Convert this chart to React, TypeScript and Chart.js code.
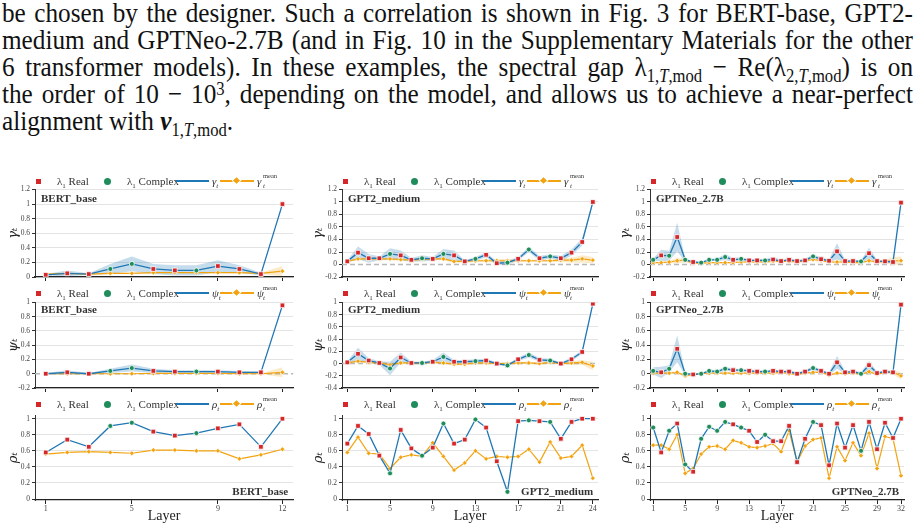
import React, { useEffect, useLayoutEffect, useRef, useState } from 'react';
import { Chart, registerables } from 'chart.js';

Chart.register(...registerables);

const SERIF = '"Liberation Serif", "DejaVu Serif", serif';
const MATH = '"DejaVu Serif", "Liberation Serif", serif';
const BLUE = '#1f77b4';
const BAND_BLUE = 'rgba(31,119,180,0.26)';
const ORANGE = '#f2a30f';
const BAND_ORANGE = 'rgba(242,163,15,0.22)';
const RED = '#d62728';
const GREEN = '#1e8d5b';

// ---------- categories ----------
const BERT_LAYERS = [1, 2, 3, 4, 5, 6, 7, 8, 9, 10, 11, 12];
const GPT2_LAYERS = [1, 2, 3, 4, 5, 6, 7, 8, 9, 10, 11, 12, 13, 14, 15, 16, 17, 18, 19, 20, 21, 22, 23, 24];
const GPTNEO_LAYERS = [1, 2, 3, 4, 5, 6, 7, 8, 9, 10, 11, 12, 13, 14, 15, 16, 17, 18, 19, 20, 21, 22, 23, 24, 25, 26, 27, 28, 29, 30, 31, 32];

const BERT_XTICKS = [1, 5, 9, 12];
const GPT2_XTICKS = [1, 5, 9, 13, 17, 21, 24];
const GPTNEO_XTICKS = [1, 5, 9, 13, 17, 21, 25, 29, 32];

// R = lambda_1 real, C = lambda_1 complex
const BERT_TYPES = 'RRRCCRRCRRRR';
const GPT2_TYPES = 'RRRRCRRCRCRRCRRCRCRCRRRR';
const GPTNEO_TYPES = 'CRCRCRCCCCRCRRCRRRRRCRRRRRCRRRRR';

// ---------- BERT_base ----------
const BERT_GAMMA = [0.03, 0.05, 0.04, 0.11, 0.18, 0.11, 0.09, 0.09, 0.15, 0.11, 0.04, 1.0];
const BERT_GAMMA_SD = [0.01, 0.04, 0.01, 0.07, 0.1, 0.07, 0.07, 0.07, 0.08, 0.05, 0.02, 0.0];
const BERT_GAMMA_MEAN = [0.04, 0.05, 0.04, 0.05, 0.05, 0.06, 0.06, 0.06, 0.06, 0.06, 0.05, 0.08];
const BERT_GAMMA_MEAN_SD = [0.01, 0.01, 0.01, 0.01, 0.01, 0.01, 0.01, 0.01, 0.01, 0.01, 0.01, 0.07];

const BERT_PSI = [0.0, 0.02, 0.0, 0.04, 0.08, 0.04, 0.03, 0.03, 0.03, 0.02, 0.02, 0.96];
const BERT_PSI_SD = [0.01, 0.03, 0.01, 0.03, 0.05, 0.03, 0.02, 0.02, 0.02, 0.02, 0.01, 0.0];
const BERT_PSI_MEAN = [0.0, 0.0, 0.0, 0.0, 0.0, 0.005, 0.005, 0.005, 0.005, 0.0, 0.0, 0.02];
const BERT_PSI_MEAN_SD = [0.005, 0.005, 0.005, 0.005, 0.005, 0.005, 0.005, 0.005, 0.005, 0.005, 0.005, 0.07];

const BERT_RHO = [0.58, 0.74, 0.65, 0.91, 0.95, 0.84, 0.79, 0.82, 0.88, 0.93, 0.65, 1.0];
const BERT_RHO_MEAN = [0.56, 0.58, 0.59, 0.58, 0.57, 0.61, 0.61, 0.6, 0.6, 0.5, 0.55, 0.62];

// ---------- GPT2_medium ----------
const GPT2_GAMMA = [0.05, 0.19, 0.1, 0.1, 0.17, 0.145, 0.075, 0.1, 0.09, 0.17, 0.145, 0.05, 0.09, 0.155, 0.02, 0.03, 0.09, 0.24, 0.1, 0.13, 0.1, 0.19, 0.36, 1.0];
const GPT2_GAMMA_SD = [0.02, 0.1, 0.07, 0.03, 0.09, 0.08, 0.03, 0.05, 0.03, 0.08, 0.08, 0.02, 0.03, 0.04, 0.03, 0.03, 0.03, 0.04, 0.04, 0.03, 0.04, 0.05, 0.06, 0.0];
const GPT2_GAMMA_MEAN = [0.05, 0.09, 0.09, 0.09, 0.09, 0.08, 0.07, 0.08, 0.09, 0.09, 0.05, 0.05, 0.06, 0.06, 0.06, 0.06, 0.06, 0.06, 0.06, 0.06, 0.07, 0.07, 0.09, 0.07];
const GPT2_GAMMA_MEAN_SD = [0.01, 0.02, 0.02, 0.02, 0.02, 0.02, 0.02, 0.02, 0.02, 0.02, 0.02, 0.02, 0.02, 0.02, 0.03, 0.03, 0.02, 0.02, 0.02, 0.02, 0.03, 0.04, 0.06, 0.05];

const GPT2_PSI = [0.02, 0.16, 0.05, 0.01, -0.08, 0.1, 0.01, 0.01, 0.03, 0.11, 0.03, 0.03, 0.04, 0.05, 0.0, -0.03, 0.07, 0.14, 0.06, 0.05, 0.0, 0.07, 0.19, 0.98];
const GPT2_PSI_SD = [0.02, 0.1, 0.04, 0.03, 0.11, 0.08, 0.02, 0.02, 0.03, 0.07, 0.03, 0.03, 0.03, 0.03, 0.02, 0.02, 0.03, 0.04, 0.03, 0.03, 0.02, 0.03, 0.03, 0.0];
const GPT2_PSI_MEAN = [0.01, 0.04, 0.02, 0.01, -0.02, 0.01, 0.01, 0.01, 0.02, 0.01, -0.01, -0.01, 0.01, 0.01, 0.0, 0.0, 0.01, 0.01, 0.0, 0.02, 0.0, 0.01, 0.02, -0.04];
const GPT2_PSI_MEAN_SD = [0.02, 0.02, 0.02, 0.02, 0.02, 0.02, 0.02, 0.02, 0.02, 0.02, 0.02, 0.02, 0.02, 0.02, 0.02, 0.02, 0.02, 0.02, 0.02, 0.02, 0.02, 0.03, 0.04, 0.07];

const GPT2_RHO = [0.69, 0.91, 0.81, 0.54, 0.32, 0.86, 0.63, 0.54, 0.64, 0.94, 0.69, 0.74, 0.99, 0.89, 0.47, 0.09, 0.97, 0.98, 0.97, 0.96, 0.75, 0.96, 1.0, 1.0];
const GPT2_RHO_MEAN = [0.58, 0.77, 0.57, 0.56, 0.38, 0.52, 0.55, 0.53, 0.7, 0.53, 0.36, 0.45, 0.6, 0.5, 0.53, 0.52, 0.53, 0.62, 0.46, 0.71, 0.51, 0.53, 0.67, 0.26];

// ---------- GPTNeo_2.7B ----------
const GPTNEO_GAMMA = [0.075, 0.145, 0.14, 0.44, 0.075, 0.04, 0.03, 0.075, 0.075, 0.12, 0.075, 0.09, 0.065, 0.065, 0.065, 0.08, 0.055, 0.075, 0.055, 0.065, 0.13, 0.085, 0.06, 0.21, 0.055, 0.055, 0.05, 0.18, 0.055, 0.05, 0.04, 0.99];
const GPTNEO_GAMMA_SD = [0.02, 0.09, 0.08, 0.23, 0.03, 0.01, 0.01, 0.02, 0.02, 0.05, 0.03, 0.03, 0.02, 0.02, 0.03, 0.04, 0.02, 0.03, 0.02, 0.03, 0.03, 0.03, 0.02, 0.13, 0.02, 0.02, 0.02, 0.09, 0.02, 0.02, 0.02, 0.0];
const GPTNEO_GAMMA_MEAN = [0.03, 0.03, 0.04, 0.06, 0.07, 0.02, 0.02, 0.03, 0.03, 0.03, 0.03, 0.04, 0.04, 0.04, 0.04, 0.05, 0.05, 0.05, 0.04, 0.06, 0.08, 0.06, 0.04, 0.04, 0.04, 0.03, 0.03, 0.06, 0.04, 0.05, 0.06, 0.06];
const GPTNEO_GAMMA_MEAN_SD = [0.01, 0.01, 0.02, 0.04, 0.04, 0.01, 0.01, 0.01, 0.01, 0.01, 0.01, 0.01, 0.01, 0.01, 0.01, 0.01, 0.01, 0.01, 0.01, 0.02, 0.02, 0.02, 0.01, 0.02, 0.01, 0.01, 0.01, 0.02, 0.02, 0.03, 0.06, 0.07];

const GPTNEO_PSI = [0.04, 0.02, 0.07, 0.35, 0.0, -0.01, 0.0, 0.04, 0.03, 0.07, 0.05, 0.05, 0.04, 0.03, 0.03, 0.04, 0.03, 0.03, 0.0, 0.03, 0.08, 0.04, 0.0, 0.16, 0.02, 0.03, 0.0, 0.12, 0.01, 0.03, 0.02, 0.97];
const GPTNEO_PSI_SD = [0.05, 0.08, 0.05, 0.19, 0.02, 0.01, 0.01, 0.02, 0.02, 0.03, 0.02, 0.02, 0.02, 0.02, 0.02, 0.02, 0.02, 0.02, 0.02, 0.02, 0.03, 0.02, 0.02, 0.09, 0.02, 0.02, 0.02, 0.06, 0.02, 0.02, 0.02, 0.0];
const GPTNEO_PSI_MEAN = [0.01, 0.01, 0.01, 0.02, -0.03, -0.01, 0.0, 0.01, 0.01, 0.01, 0.01, 0.01, 0.01, 0.01, 0.01, 0.01, 0.02, 0.0, -0.01, 0.01, 0.02, 0.02, -0.02, 0.01, 0.0, 0.01, -0.01, 0.03, -0.01, 0.02, 0.02, -0.03];
const GPTNEO_PSI_MEAN_SD = [0.01, 0.01, 0.01, 0.02, 0.02, 0.01, 0.01, 0.01, 0.01, 0.01, 0.01, 0.01, 0.01, 0.01, 0.01, 0.01, 0.01, 0.01, 0.01, 0.01, 0.01, 0.01, 0.01, 0.02, 0.01, 0.01, 0.01, 0.02, 0.01, 0.01, 0.03, 0.05];

const GPTNEO_RHO = [0.89, 0.58, 0.85, 0.94, 0.43, 0.34, 0.75, 0.9, 0.85, 0.96, 0.93, 0.89, 0.85, 0.71, 0.8, 0.72, 0.72, 0.91, 0.46, 0.75, 0.96, 0.92, 0.42, 0.94, 0.64, 0.92, 0.6, 0.96, 0.62, 0.95, 0.76, 1.0];
const GPTNEO_RHO_MEAN = [0.67, 0.67, 0.62, 0.8, 0.32, 0.38, 0.56, 0.65, 0.66, 0.62, 0.73, 0.7, 0.65, 0.64, 0.66, 0.69, 0.59, 0.85, 0.46, 0.66, 0.74, 0.76, 0.26, 0.65, 0.48, 0.7, 0.54, 0.82, 0.38, 0.78, 0.75, 0.29];

// ---------- y tick labels ----------
const Y_TICKS_0_12 = [0, 0.2, 0.4, 0.6, 0.8, 1, 1.2];
const Y_TICKS_M2_12 = [-0.2, 0, 0.2, 0.4, 0.6, 0.8, 1, 1.2];
const Y_TICKS_M2_1 = [-0.2, 0, 0.2, 0.4, 0.6, 0.8, 1];
const Y_TICKS_M4_1 = [-0.4, -0.2, 0, 0.2, 0.4, 0.6, 0.8, 1];
const Y_TICKS_0_1 = [0, 0.2, 0.4, 0.6, 0.8, 1];

const BERT = { name: 'BERT_base', layers: BERT_LAYERS, types: BERT_TYPES, xTicks: BERT_XTICKS, pad: 0.5 };
const GPT2 = { name: 'GPT2_medium', layers: GPT2_LAYERS, types: GPT2_TYPES, xTicks: GPT2_XTICKS, pad: 0.5 };
const GPTNEO = { name: 'GPTNeo_2.7B', layers: GPTNEO_LAYERS, types: GPTNEO_TYPES, xTicks: GPTNEO_XTICKS, pad: 0.4 };

// ---------- layout ----------
const COLS = [
  { canvasLeft: 0, plotLeft: 35, plotRight: 295, titlePad: 6 },
  { canvasLeft: 305, plotLeft: 342, plotRight: 600, titlePad: 6 },
  { canvasLeft: 610, plotLeft: 650, plotRight: 906, titlePad: 8 },
];
const ROWS = [
  { canvasTop: 183, plotTop: 189, plotBottom: 277, canvasBottom: 284, legendY: 181, nameDy: 10 },
  { canvasTop: 296, plotTop: 302, plotBottom: 388, canvasBottom: 395, legendY: 293, nameDy: 8 },
  { canvasTop: 409, plotTop: 415, plotBottom: 500, canvasBottom: 530, legendY: 404, nameDy: -8 },
];

const PANELS = [
  { row: 0, col: 0, model: BERT, sym: 'γ', main: BERT_GAMMA, mainSd: BERT_GAMMA_SD, mean: BERT_GAMMA_MEAN, meanSd: BERT_GAMMA_MEAN_SD, yMin: 0, yMax: 1.2, yTicks: Y_TICKS_0_12 },
  { row: 0, col: 1, model: GPT2, sym: 'γ', main: GPT2_GAMMA, mainSd: GPT2_GAMMA_SD, mean: GPT2_GAMMA_MEAN, meanSd: GPT2_GAMMA_MEAN_SD, yMin: -0.2, yMax: 1.2, yTicks: Y_TICKS_M2_12 },
  { row: 0, col: 2, model: GPTNEO, sym: 'γ', main: GPTNEO_GAMMA, mainSd: GPTNEO_GAMMA_SD, mean: GPTNEO_GAMMA_MEAN, meanSd: GPTNEO_GAMMA_MEAN_SD, yMin: -0.2, yMax: 1.2, yTicks: Y_TICKS_M2_12 },
  { row: 1, col: 0, model: BERT, sym: 'ψ', main: BERT_PSI, mainSd: BERT_PSI_SD, mean: BERT_PSI_MEAN, meanSd: BERT_PSI_MEAN_SD, yMin: -0.2, yMax: 1, yTicks: Y_TICKS_M2_1 },
  { row: 1, col: 1, model: GPT2, sym: 'ψ', main: GPT2_PSI, mainSd: GPT2_PSI_SD, mean: GPT2_PSI_MEAN, meanSd: GPT2_PSI_MEAN_SD, yMin: -0.4, yMax: 1, yTicks: Y_TICKS_M4_1 },
  { row: 1, col: 2, model: GPTNEO, sym: 'ψ', main: GPTNEO_PSI, mainSd: GPTNEO_PSI_SD, mean: GPTNEO_PSI_MEAN, meanSd: GPTNEO_PSI_MEAN_SD, yMin: -0.2, yMax: 1, yTicks: Y_TICKS_M2_1 },
  { row: 2, col: 0, model: BERT, sym: 'ρ', main: BERT_RHO, mean: BERT_RHO_MEAN, yMin: -0.012, yMax: 1.04, yTicks: Y_TICKS_0_1 },
  { row: 2, col: 1, model: GPT2, sym: 'ρ', main: GPT2_RHO, mean: GPT2_RHO_MEAN, yMin: -0.012, yMax: 1.04, yTicks: Y_TICKS_0_1 },
  { row: 2, col: 2, model: GPTNEO, sym: 'ρ', main: GPTNEO_RHO, mean: GPTNEO_RHO_MEAN, yMin: -0.012, yMax: 1.04, yTicks: Y_TICKS_0_1 },
];

const nameLabel = {
  id: 'nameLabel',
  afterDatasetsDraw(chart: any, _args: any, opts: any) {
    if (!opts || !opts.text) return;
    const { ctx, chartArea } = chart;
    ctx.save();
    ctx.font = `bold 11px ${SERIF}`;
    ctx.fillStyle = '#333';
    ctx.textBaseline = 'middle';
    if (opts.dy > 0) {
      ctx.textAlign = 'left';
      ctx.fillText(opts.text, chartArea.left + 6, chartArea.top + opts.dy);
    } else {
      ctx.textAlign = 'right';
      ctx.fillText(opts.text, chartArea.right - 5, chartArea.bottom + opts.dy);
    }
    ctx.restore();
  },
};

const zeroLine = {
  id: 'zeroLine',
  beforeDatasetsDraw(chart: any, _args: any, opts: any) {
    if (!opts || !opts.show) return;
    const { ctx, chartArea } = chart;
    const y = chart.scales.y.getPixelForValue(0);
    ctx.save();
    ctx.strokeStyle = '#b8b8b8';
    ctx.lineWidth = 1.5;
    ctx.setLineDash([5, 3]);
    ctx.beginPath();
    ctx.moveTo(chartArea.left, y);
    ctx.lineTo(chartArea.right, y);
    ctx.stroke();
    ctx.restore();
  },
};

function buildConfig(p: any) {
  const col = COLS[p.col];
  const row = ROWS[p.row];
  const m = p.model;
  const types = m.types.split('');
  const pts = (arr: number[]) => m.layers.map((x: number, i: number) => ({ x, y: arr[i] }));
  const ptsOff = (arr: number[], sd: number[], s: number) => m.layers.map((x: number, i: number) => ({ x, y: arr[i] + s * sd[i] }));
  const datasets: any[] = [
    {
      label: 'main', data: pts(p.main), borderColor: BLUE, borderWidth: 1.3,
      pointStyle: types.map((t: string) => (t === 'R' ? 'rect' : 'circle')),
      pointRadius: types.map((t: string) => (t === 'R' ? 3.3 : 2.5)),
      pointBackgroundColor: types.map((t: string) => (t === 'R' ? RED : GREEN)),
      pointBorderColor: '#ffffff', pointBorderWidth: 0.8, fill: false, order: 0, tension: 0,
    },
    {
      label: 'mean', data: pts(p.mean), borderColor: ORANGE, borderWidth: 1.2,
      pointStyle: 'rectRot', pointRadius: 2.4, pointBackgroundColor: ORANGE,
      pointBorderColor: '#ffffff', pointBorderWidth: 0.6, fill: false, order: 1, tension: 0,
    },
  ];
  if (p.mainSd) {
    datasets.push(
      { label: 'mu', data: ptsOff(p.main, p.mainSd, 1), borderWidth: 0, pointRadius: 0, backgroundColor: BAND_BLUE, fill: '+1', order: 3 },
      { label: 'ml', data: ptsOff(p.main, p.mainSd, -1), borderWidth: 0, pointRadius: 0, fill: false, order: 4 },
    );
  }
  if (p.meanSd) {
    datasets.push(
      { label: 'au', data: ptsOff(p.mean, p.meanSd, 1), borderWidth: 0, pointRadius: 0, backgroundColor: BAND_ORANGE, fill: '+1', order: 5 },
      { label: 'al', data: ptsOff(p.mean, p.meanSd, -1), borderWidth: 0, pointRadius: 0, fill: false, order: 6 },
    );
  }
  const canvasW = col.plotRight - col.canvasLeft + 3;
  return {
    type: 'line',
    data: { datasets },
    plugins: [nameLabel, zeroLine],
    options: {
      animation: false,
      responsive: false,
      maintainAspectRatio: false,
      devicePixelRatio: 1,
      layout: { padding: { top: row.plotTop - row.canvasTop, right: canvasW - (col.plotRight - col.canvasLeft), left: 0, bottom: 0 } },
      plugins: {
        legend: { display: false },
        tooltip: { enabled: false },
        nameLabel: { text: m.name, dy: row.nameDy },
        zeroLine: { show: p.yMin < -0.05 },
      },
      scales: {
        x: {
          type: 'linear', min: 1 - m.pad, max: m.layers.length + m.pad,
          afterBuildTicks: (s: any) => { s.ticks = m.xTicks.map((v: number) => ({ value: v })); },
          afterFit: (s: any) => { s.height = row.canvasBottom - row.plotBottom; },
          grid: { drawOnChartArea: false, drawTicks: true, tickLength: 4, color: '#222', tickColor: '#222', lineWidth: 1 },
          border: { display: true, color: '#222', width: 1.2 },
          ticks: { display: p.row === 2, font: { family: SERIF, size: 8 }, color: '#444', padding: 0, maxRotation: 0, autoSkip: false, callback: (v: any) => String(v) },
          title: { display: p.row === 2, text: 'Layer', font: { family: SERIF, size: 14 }, color: '#222', padding: { top: 0, bottom: 5 } },
        },
        y: {
          type: 'linear', min: p.yMin, max: p.yMax,
          afterBuildTicks: (s: any) => { s.ticks = p.yTicks.map((v: number) => ({ value: v })); },
          afterFit: (s: any) => { s.width = col.plotLeft - col.canvasLeft; },
          grid: {
            color: (c: any) => (c.tick && Math.abs(c.tick.value) < 1e-9 && p.yMin < -0.05 ? 'rgba(0,0,0,0)' : '#e4e4e4'),
            lineWidth: 1, drawTicks: true, tickLength: 3, tickColor: '#333',
          },
          border: { display: true, color: '#333', width: 1 },
          ticks: { font: { family: SERIF, size: 7.5 }, color: '#444', padding: 2, callback: (v: any) => String(Math.round(Number(v) * 10) / 10) },
          title: { display: true, text: p.sym + 'ₜ', font: { family: MATH, size: 13, style: 'italic' }, color: '#222', padding: { top: col.titlePad, bottom: 0 } },
        },
      },
    },
  };
}

function Panel({ p }: { p: any }) {
  const ref = useRef<HTMLCanvasElement | null>(null);
  const col = COLS[p.col];
  const row = ROWS[p.row];
  const w = col.plotRight - col.canvasLeft + 3;
  const h = row.canvasBottom - row.canvasTop;
  useEffect(() => {
    const chart = new Chart(ref.current as HTMLCanvasElement, buildConfig(p) as any);
    return () => chart.destroy();
  }, []);
  return (
    <canvas ref={ref} width={w} height={h}
      style={{ position: 'absolute', left: col.canvasLeft, top: row.canvasTop, width: w, height: h }} />
  );
}

function Legend({ p }: { p: any }) {
  const col = COLS[p.col];
  const row = ROWS[p.row];
  const abs = (l: number, extra: any = {}) => ({ position: 'absolute' as const, left: l, top: 0, whiteSpace: 'nowrap' as const, ...extra });
  const sub = { fontSize: 7, position: 'relative' as const, top: 2.5 };
  return (
    <div style={{ position: 'absolute', left: col.plotLeft + 1, top: row.legendY - 8, width: 260, height: 16, fontFamily: SERIF, fontSize: 11, lineHeight: '16px', color: '#333', zIndex: 2 }}>
      <span style={abs(0, { top: 5.5, width: 5, height: 5, background: RED })} />
      <span style={abs(21)}>λ<span style={sub}>1</span> Real</span>
      <span style={abs(68, { top: 4.5, width: 7, height: 7, borderRadius: '50%', background: GREEN })} />
      <span style={abs(91)}>λ<span style={sub}>1</span> Complex</span>
      <span style={abs(140, { top: 7, width: 33, height: 2, background: BLUE })} />
      <span style={abs(176, { fontStyle: 'italic' })}>{p.sym}<span style={sub}>t</span></span>
      <span style={abs(184, { top: 7, width: 34, height: 2, background: ORANGE })} />
      <span style={abs(198, { top: 5, width: 5, height: 5, background: ORANGE, transform: 'rotate(45deg)', outline: '1px solid #fff' })} />
      <span style={abs(221, { fontStyle: 'italic' })}>{p.sym}</span>
      <span style={abs(227, { top: 5, fontSize: 7, fontStyle: 'italic' })}>t</span>
      <span style={abs(227, { top: -5, fontSize: 6.5 })}>mean</span>
    </div>
  );
}

const SUBS = { fontSize: '0.66em', position: 'relative' as const, top: '0.3em', lineHeight: 0 };
const SUPS = { fontSize: '0.66em', position: 'relative' as const, top: '-0.45em', lineHeight: 0 };

const TEXT_W = 911;
const FONT_PX = 28;
const MAX_SCALE = 0.9;

function subT(n: string) {
  return (<span style={SUBS}>{n},<i>T</i>,mod</span>);
}

const LINES = [
  () => (<>be chosen by the designer. Such a correlation is shown in Fig. 3 for BERT-base, GPT2-</>),
  () => (<>medium and GPTNeo-2.7B (and in Fig. 10 in the Supplementary Materials for the other</>),
  () => (<>6 transformer models). In these examples, the spectral gap λ{subT('1')} − Re(λ{subT('2')}) is on</>),
  () => (<>the order of 10 − 10<span style={SUPS}>3</span>, depending on the model, and allows us to achieve a near-perfect</>),
  () => (<>alignment with <b><i>v</i></b>{subT('1')}.</>),
];

function Paragraph() {
  const measRef = useRef<HTMLDivElement | null>(null);
  const [scale, setScale] = useState(MAX_SCALE);
  useLayoutEffect(() => {
    const el = measRef.current;
    if (!el) return;
    let maxW = 0;
    el.querySelectorAll('[data-m]').forEach((s: any) => { maxW = Math.max(maxW, s.offsetWidth); });
    if (maxW > 0) setScale(Math.min(MAX_SCALE, TEXT_W / maxW));
  }, []);
  const base = { fontFamily: SERIF, fontSize: FONT_PX, lineHeight: '27px', color: '#111' };
  return (
    <>
      <div ref={measRef} style={{ ...base, position: 'absolute', left: 0, top: 0, visibility: 'hidden', whiteSpace: 'nowrap' }}>
        {LINES.slice(0, 4).map((L, i) => (<div key={i}><span data-m="1" style={{ display: 'inline-block' }}>{L()}</span></div>))}
      </div>
      <div style={{ ...base, position: 'absolute', left: 2, top: -1, width: TEXT_W / scale, transform: `scaleX(${scale})`, transformOrigin: '0 0' }}>
        {LINES.map((L, i) => (
          <div key={i} style={{ height: 27, whiteSpace: 'nowrap', textAlign: i < 4 ? 'justify' : 'left', textAlignLast: i < 4 ? 'justify' : 'left' }}>{L()}</div>
        ))}
      </div>
    </>
  );
}

export default function App() {
  return (
    <div style={{ position: 'absolute', left: 0, top: 0, width: 915, height: 530, background: '#fff', overflow: 'hidden' }}>
      <Paragraph />
      {PANELS.map((p, i) => (<Panel key={'c' + i} p={p} />))}
      {PANELS.map((p, i) => (<Legend key={'l' + i} p={p} />))}
    </div>
  );
}
